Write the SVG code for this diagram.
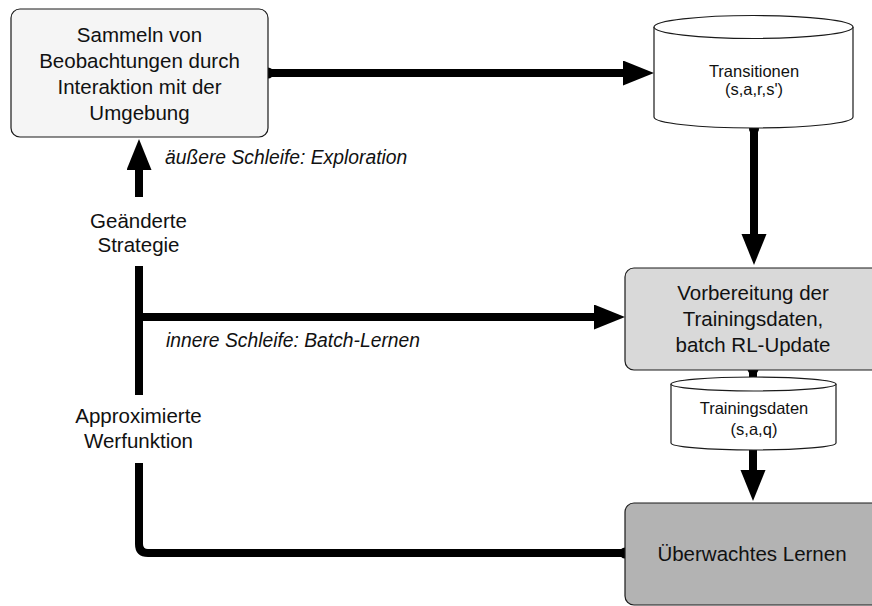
<svg xmlns="http://www.w3.org/2000/svg" width="872" height="606" viewBox="0 0 872 606">
  <defs>
    <style>
      .box { stroke: #1a1a1a; stroke-width: 1.2; }
      .store { fill: #ffffff; stroke: #1a1a1a; stroke-width: 1.2; }
      .t { font-family: "Liberation Sans", Arial, Helvetica, sans-serif; fill: #111111; text-anchor: middle; }
      .big { font-size: 20.5px; }
      .small { font-size: 16.5px; }
      .note { font-family: "Liberation Sans", Arial, Helvetica, sans-serif; font-style: italic; font-size: 19.3px; fill: #111111; }
      .wire { fill: none; stroke: #000000; stroke-width: 8; }
    </style>
    <marker id="head" markerUnits="userSpaceOnUse" markerWidth="32" markerHeight="26" refX="0" refY="12.5" orient="auto">
      <path d="M0,0 L31,12.5 L0,25 Z" fill="#000000"/>
    </marker>
  </defs>

  <rect width="872" height="606" fill="#ffffff"/>

  <!-- connectors -->
  <g id="connectors">
    <!-- collect -> transitions store -->
    <path class="wire" d="M268,73 H623" marker-end="url(#head)"/>
    <circle cx="268" cy="73" r="5.5" fill="#000000"/>
    <!-- transitions store -> preparation -->
    <path class="wire" d="M754,128 V234" marker-end="url(#head)"/>
    <circle cx="754" cy="129" r="5" fill="#000000"/>
    <!-- preparation -> training data store -->
    <path class="wire" d="M753,369 V378"/>
    <circle cx="753" cy="369" r="5.5" fill="#000000"/>
    <!-- training data store -> supervised learning -->
    <path class="wire" d="M753,450 V470" marker-end="url(#head)"/>
    <!-- feedback loop: supervised learning -> left spine -->
    <path class="wire" d="M625,553 H148 Q139,553 139,544 V463 M139,395 V266"/>
    <circle cx="625" cy="553" r="5.5" fill="#000000"/>
    <!-- outer loop: up to collecting -->
    <path class="wire" d="M139,197 V170" marker-end="url(#head)"/>
    <!-- inner loop: across to preparation -->
    <path class="wire" d="M139,317 H594" marker-end="url(#head)"/>
  </g>

  <!-- collecting observations -->
  <g id="collect">
    <rect class="box" x="11" y="9" width="257" height="128" rx="9" fill="#f5f5f5"/>
    <text class="t big" x="139.5" y="42">Sammeln von</text>
    <text class="t big" x="139.5" y="68">Beobachtungen durch</text>
    <text class="t big" x="139.5" y="94">Interaktion mit der</text>
    <text class="t big" x="139.5" y="120">Umgebung</text>
  </g>

  <!-- transitions store -->
  <g id="transitions">
    <path class="store" d="M654,27 A99.5,11.5 0 0 1 853,27 V117 A99.5,11 0 0 1 654,117 Z"/>
    <path class="store" fill="none" d="M654,27 A99.5,11.5 0 0 0 853,27"/>
    <text class="t small" x="754" y="77">Transitionen</text>
    <text class="t small" x="754" y="95">(s,a,r,s')</text>
  </g>

  <!-- preparation / batch RL update -->
  <g id="prepare">
    <rect class="box" x="625" y="268" width="258" height="102" rx="9" fill="#d9d9d9"/>
    <text class="t big" x="753" y="300">Vorbereitung der</text>
    <text class="t big" x="753" y="326">Trainingsdaten,</text>
    <text class="t big" x="753" y="352">batch RL-Update</text>
  </g>

  <!-- training data store -->
  <g id="trainingdata">
    <path class="store" d="M671,384 A82.5,7 0 0 1 836,384 V443 A82.5,7 0 0 1 671,443 Z"/>
    <path class="store" fill="none" d="M671,384 A82.5,7 0 0 0 836,384"/>
    <text class="t small" x="754" y="414">Trainingsdaten</text>
    <text class="t small" x="754" y="435">(s,a,q)</text>
  </g>

  <!-- supervised learning -->
  <g id="supervised">
    <rect class="box" x="625" y="503" width="258" height="102" rx="9" fill="#b3b3b3"/>
    <text class="t big" x="752" y="561">Überwachtes Lernen</text>
  </g>

  <!-- edge labels -->
  <g id="label-strategy">
    <text class="t big" x="138.5" y="228">Geänderte</text>
    <text class="t big" x="138.5" y="252">Strategie</text>
  </g>
  <g id="label-valuefn">
    <text class="t big" x="138.5" y="423">Approximierte</text>
    <text class="t big" x="138.5" y="448">Werfunktion</text>
  </g>
  <g id="label-outer">
    <text class="note" x="165" y="164">äußere Schleife: Exploration</text>
  </g>
  <g id="label-inner">
    <text class="note" x="166" y="347">innere Schleife: Batch-Lernen</text>
  </g>
</svg>
